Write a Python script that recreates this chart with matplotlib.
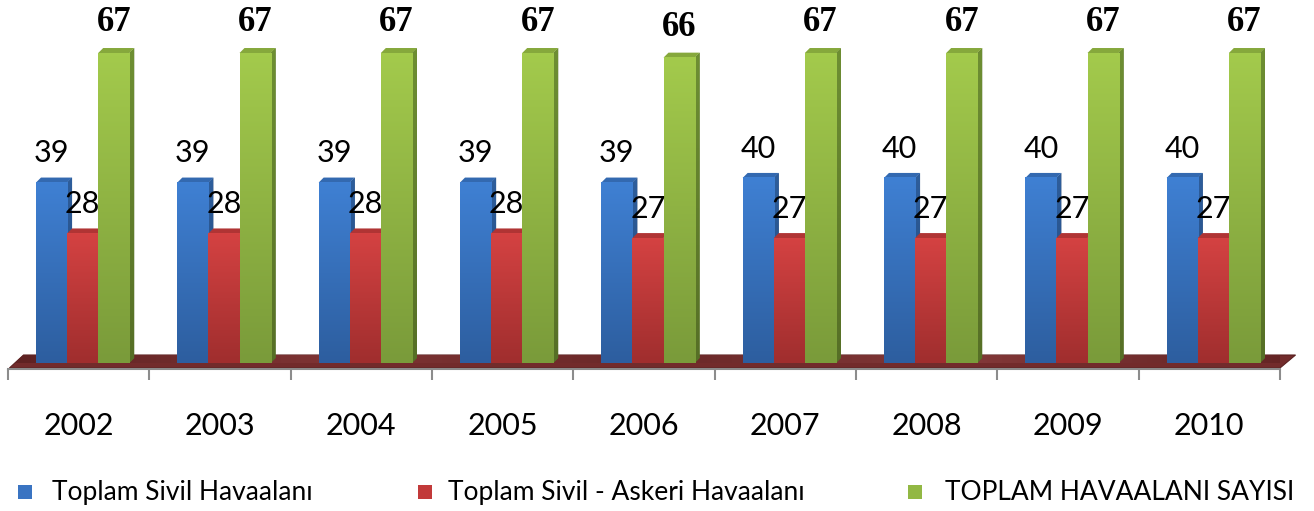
import numpy as np
import matplotlib
matplotlib.use("Agg")
import matplotlib.pyplot as plt
from matplotlib.patches import Polygon, Rectangle
from matplotlib.colors import LinearSegmentedColormap

years = ["2002", "2003", "2004", "2005", "2006", "2007", "2008", "2009", "2010"]
sivil = [39, 39, 39, 39, 39, 40, 40, 40, 40]
sivil_askeri = [28, 28, 28, 28, 27, 27, 27, 27, 27]
toplam = [67, 67, 67, 67, 66, 67, 67, 67, 67]
series_names = ["Toplam Sivil Havaalanı", "Toplam Sivil - Askeri Havaalanı", "TOPLAM HAVAALANI SAYISI"]

# (front top, front bottom, side top, side bottom, top face)
styles = [
    ("#3F80D3", "#2D5E9F", "#2E5E9C", "#22477A", "#3369B0"),
    ("#D44242", "#A02E2E", "#9A2C2C", "#7A2222", "#B03434"),
    ("#A3CA4C", "#7A9B3A", "#6E8F33", "#566F26", "#86A83C"),
]
legend_colors = ["#3A74C2", "#C23A3A", "#92B844"]

W, H = 1314, 511
fig = plt.figure(figsize=(W / 100, H / 100), dpi=100)
ax = fig.add_axes([8 / W, 148 / H, 1272 / W, 347 / H])
ax.set_xlim(-0.5, 8.5)
ax.set_ylim(0, 75)

cat_px = 1272 / 9.0
val_px = 347 / 75.0
dx = 5 / cat_px
dy = 5 / val_px
bw = 0.22
offsets = [-0.192, 0.028, 0.248]
x = np.arange(len(years))

# floor
fy0, fy1 = -5 / val_px, 8 / val_px
shift = 0.11
floor = Polygon([(-0.5 + 0.01, fy0), (8.5, fy0), (8.5 + shift, fy1), (-0.5 + shift, fy1)],
                closed=True, facecolor="#722B2B", edgecolor="#5A2020", lw=0.8,
                zorder=1, clip_on=False)
ax.add_patch(floor)
fg = np.linspace(0, 1, 200).reshape(1, -1)
fcm = LinearSegmentedColormap.from_list("f", ["#5E2222", "#7E3434", "#6A2828", "#823838", "#642424"])
im = ax.imshow(fg, cmap=fcm, extent=(-0.5, 8.5 + shift, fy0, fy1), aspect="auto", zorder=1.1,
               interpolation="bicubic")
im.set_clip_path(floor)


def grad_rect(x0, x1, y0, y1, c_top, c_bot, z):
    cm = LinearSegmentedColormap.from_list("g", [c_bot, c_top])
    g = np.linspace(0, 1, 100).reshape(-1, 1)
    ax.imshow(g, cmap=cm, extent=(x0, x1, y0, y1), origin="lower", aspect="auto",
              zorder=z, interpolation="bilinear")


for si, vals in enumerate([sivil, sivil_askeri, toplam]):
    ft, fb, st, sb, tc = styles[si]
    for i, v in enumerate(vals):
        xc = x[i] + offsets[si]
        x0, x1 = xc - bw / 2, xc + bw / 2
        z = 2 + si * 0.1
        side = Polygon([(x1, 0), (x1 + dx, dy), (x1 + dx, v + dy), (x1, v)], closed=True,
                       facecolor=sb, edgecolor="none", zorder=z)
        ax.add_patch(side)
        cm = LinearSegmentedColormap.from_list("s", [sb, st])
        simg = ax.imshow(np.linspace(0, 1, 100).reshape(-1, 1), cmap=cm,
                         extent=(x1, x1 + dx, 0, v + dy), origin="lower", aspect="auto",
                         zorder=z + 0.01)
        simg.set_clip_path(side)
        ax.add_patch(Polygon([(x0, v), (x1, v), (x1 + dx, v + dy), (x0 + dx, v + dy)], closed=True,
                             facecolor=tc, edgecolor="none", zorder=z + 0.02))
        grad_rect(x0, x1, 0, v, ft, fb, z + 0.03)

ax.set_xlim(-0.5, 8.5)
ax.set_ylim(0, 75)

# labels
for i in range(len(years)):
    ax.annotate(str(sivil[i]), (x[i] + offsets[0], sivil[i]), xytext=(0, 21), textcoords="offset points",
                ha="center", va="center", fontsize=22, family="Lato", color="black", zorder=5)
    ax.annotate(str(sivil_askeri[i]), (x[i] + offsets[1], sivil_askeri[i]), xytext=(0, 21),
                textcoords="offset points", ha="center", va="center", fontsize=22, family="Lato",
                color="black", zorder=5)
    ax.annotate(str(toplam[i]), (x[i] + offsets[2], toplam[i]), xytext=(0, 22), textcoords="offset points",
                ha="center", va="center", fontsize=25, family="Liberation Serif", fontweight="bold",
                color="black", zorder=5, annotation_clip=False)

# axis
for s in ["top", "right", "left"]:
    ax.spines[s].set_visible(False)
ax.spines["bottom"].set_position(("outward", 4.3))
ax.spines["bottom"].set_color("#8C8C8C")
ax.spines["bottom"].set_linewidth(1.5)
ax.set_yticks([])
ax.set_xticks(x)
ax.set_xticklabels(years, fontsize=22, family="Lato")
ax.tick_params(axis="x", which="major", length=0, pad=31)
ax.set_xticks(np.arange(-0.5, 9.0, 1.0), minor=True)
ax.tick_params(axis="x", which="minor", length=8, width=1.5, color="#8C8C8C")
ax.patch.set_alpha(0)

# legend
legend_x = [(18, 52), (418, 448), (908, 945)]
for si, (sx, tx) in enumerate(legend_x):
    fig.patches.append(Rectangle((sx / W, (511 - 499) / H), 14 / W, 14 / H,
                                 transform=fig.transFigure, facecolor=legend_colors[si],
                                 edgecolor="none"))
    fig.text(tx / W, (511 - 492) / H, series_names[si], ha="left", va="center", fontsize=19,
             family="Lato", color="black")

fig.savefig("out.png", dpi=100)
